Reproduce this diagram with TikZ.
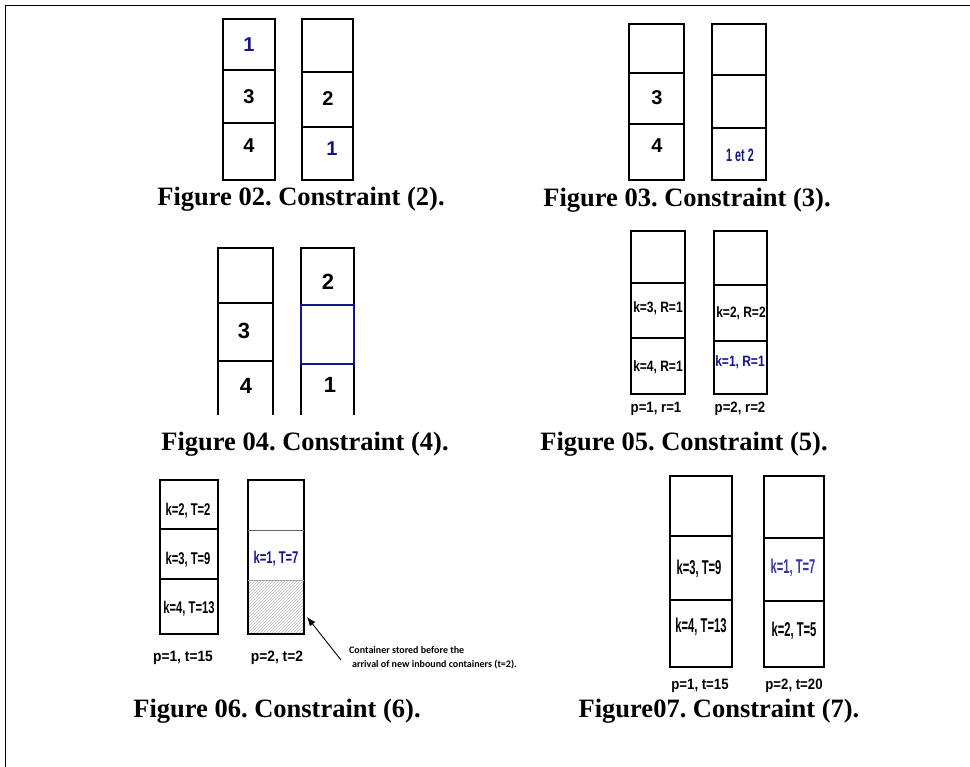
\documentclass[tikz,border=0pt]{standalone}
\usepackage{fontspec}
\setmainfont{Liberation Serif}
\newfontfamily\arial{Liberation Sans}
\newfontfamily\calib{Carlito}
\usetikzlibrary{patterns,arrows.meta}
\definecolor{navy}{RGB}{20,20,140}
\definecolor{navyb}{RGB}{55,55,165}
\newcommand{\nar}[2]{\scalebox{#1}[1]{#2}}
\frenchspacing
\tikzset{
  cell/.style={draw=black,line width=1.1pt},
  capt/.style={font=\fontsize{26.5}{28}\selectfont\bfseries, inner sep=0pt},
  dig/.style={font=\arial\bfseries\fontsize{20}{22}\selectfont, inner sep=0pt},
  bigdig/.style={font=\arial\bfseries\fontsize{22}{24}\selectfont, inner sep=0pt},
  lblb/.style={font=\arial\bfseries\fontsize{15}{17}\selectfont, inner sep=0pt},
  midb/.style={font=\arial\bfseries\fontsize{17}{19}\selectfont, inner sep=0pt},
  tallb/.style={font=\arial\bfseries\fontsize{20}{22}\selectfont, inner sep=0pt},
  note/.style={font=\calib\bfseries\fontsize{10}{12}\selectfont, inner sep=0pt, anchor=west}
}
\begin{document}
\begin{tikzpicture}[x=1pt,y=-1pt]
\useasboundingbox (0,0) rectangle (970,767);
% outer frame
\draw[line width=1pt] (5,767) -- (5,6) -- (970,6);

% ---------- Figure 02 ----------
\draw[cell] (223,19) rectangle (275,180);
\draw[cell] (223,70) -- (275,70);
\draw[cell] (223,123) -- (275,123);
\draw[cell] (302,19) rectangle (353,180);
\draw[cell] (302,72) -- (353,72);
\draw[cell] (302,127) -- (353,127);
\node[dig,text=navy] (f2a) at (249,45) {1};
\node[dig] (f2b) at (249,97) {3};
\node[dig] (f2c) at (249,146) {4};
\node[dig] (f2d) at (328,99) {2};
\node[dig,text=navy] (f2e) at (332,149) {1};
\node[capt] (c2) at (301,199) {Figure 02. Constraint (2).};

% ---------- Figure 03 ----------
\draw[cell] (629,24) rectangle (684,180);
\draw[cell] (629,73) -- (684,73);
\draw[cell] (629,124) -- (684,124);
\draw[cell] (712,24) rectangle (766,180);
\draw[cell] (712,75) -- (766,75);
\draw[cell] (712,128) -- (766,128);
\node[dig] (f3a) at (657,98) {3};
\node[dig] (f3b) at (657,146) {4};
\node[font=\arial\bfseries\fontsize{18}{20}\selectfont,inner sep=0pt,text=navy] (f3c) at (740,155) {\nar{0.6}{1 et 2}};
\node[capt] (c3) at (687,200) {Figure 03. Constraint (3).};

% ---------- Figure 04 ----------
\draw[cell] (218,415) -- (218,248) -- (273,248) -- (273,415);
\draw[cell] (218,303) -- (273,303);
\draw[cell] (218,361) -- (273,361);
\draw[cell] (301,415) -- (301,248) -- (354,248) -- (354,415);
\draw[draw=navy,line width=2pt] (301,305) rectangle (354,364);
\node[bigdig] (f4a) at (328,282) {2};
\node[bigdig] (f4b) at (244,331) {3};
\node[bigdig] (f4c) at (246,386) {4};
\node[bigdig] (f4d) at (330,385) {1};
\node[capt] (c4) at (305,444) {Figure 04. Constraint (4).};

% ---------- Figure 05 ----------
\draw[cell] (631,231) rectangle (685,394);
\draw[cell] (631,283) -- (685,283);
\draw[cell] (631,338) -- (685,338);
\draw[cell] (714,231) rectangle (767,394);
\draw[cell] (714,285) -- (767,285);
\draw[cell] (714,341) -- (767,341);
\node[lblb] (f5a) at (658,308) {\nar{0.8}{k=3, R=1}};
\node[lblb] (f5b) at (658,367) {\nar{0.8}{k=4, R=1}};
\node[lblb] (f5c) at (741,313) {\nar{0.8}{k=2, R=2}};
\node[lblb,text=navy] (f5d) at (740,362) {\nar{0.8}{k=1, R=1}};
\node[lblb] (f5e) at (656,409) {\nar{0.88}{p=1, r=1}};
\node[lblb] (f5f) at (740,409) {\nar{0.88}{p=2, r=2}};
\node[capt] (c5) at (684,444) {Figure 05. Constraint (5).};

% ---------- Figure 06 ----------
\fill[pattern=north east lines,pattern color=gray!55] (248,580) rectangle (304,634);
\draw[cell] (160,480) rectangle (218,634);
\draw[cell] (160,529) -- (218,529);
\draw[cell] (160,579) -- (218,579);
\draw[cell] (248,480) rectangle (304,634);
\draw[draw=black!60,line width=0.8pt] (248,530) -- (304,530);
\draw[draw=black!35,line width=0.8pt] (248,580) -- (304,580);
\node[midb] (f6a) at (188,511) {\nar{0.66}{k=2, T=2}};
\node[midb] (f6b) at (188,560) {\nar{0.66}{k=3, T=9}};
\node[midb] (f6c) at (189,609) {\nar{0.66}{k=4, T=13}};
\node[midb,text=navy] (f6d) at (276,559) {\nar{0.66}{k=1, T=7}};
\node[lblb] (f6e) at (183,658) {\nar{0.92}{p=1, t=15}};
\node[lblb] (f6f) at (277,658) {\nar{0.92}{p=2, t=2}};
\coordinate (tip6) at (307,617);
\coordinate (tail6) at (341,660);
\draw[line width=0.9pt,-{Latex[length=9pt,width=7pt]}] (tail6) -- (tip6);
\node[note] (n6a) at (349,650) {Container stored before the};
\node[note] (n6b) at (352,665) {arrival of new inbound containers (t=2).};
\node[capt] (c6) at (277,711) {Figure 06. Constraint (6).};

% ---------- Figure 07 ----------
\draw[cell] (670,476) rectangle (732,667);
\draw[cell] (670,536) -- (732,536);
\draw[cell] (670,600) -- (732,600);
\draw[cell] (764,476) rectangle (824,667);
\draw[cell] (764,538) -- (824,538);
\draw[cell] (764,601) -- (824,601);
\node[tallb] (f7a) at (699,569) {\nar{0.56}{k=3, T=9}};
\node[tallb] (f7b) at (701,627) {\nar{0.56}{k=4, T=13}};
\node[tallb,text=navyb] (f7c) at (793,568) {\nar{0.56}{k=1, T=7}};
\node[tallb] (f7d) at (794,631) {\nar{0.56}{k=2, T=5}};
\node[lblb] (f7e) at (700,686) {\nar{0.88}{p=1, t=15}};
\node[lblb] (f7f) at (794,686) {\nar{0.88}{p=2, t=20}};
\node[capt] (c7) at (719,711) {Figure07. Constraint (7).};
\end{tikzpicture}
\end{document}
